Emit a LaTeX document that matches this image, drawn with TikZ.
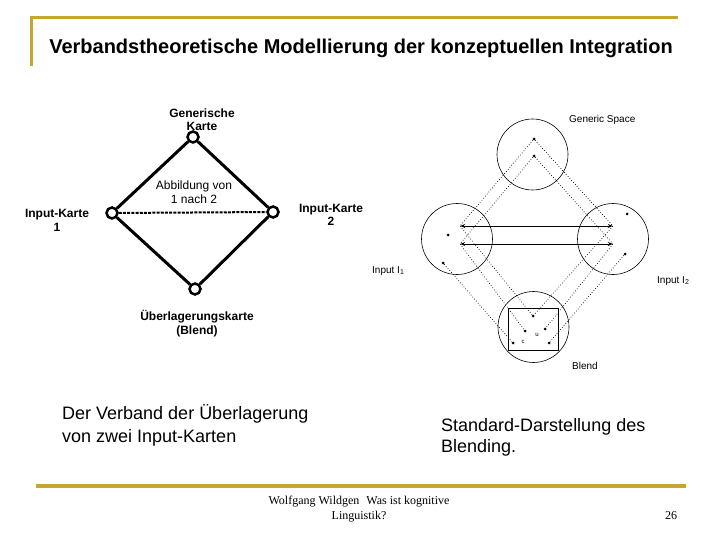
\documentclass[tikz,border=0pt]{standalone}
\usepackage{fontspec}
\setmainfont{Liberation Sans}
\newfontfamily\footfont{Liberation Serif}
\usetikzlibrary{arrows.meta}
\definecolor{gold}{RGB}{200,165,50}
\begin{document}
\begin{tikzpicture}[x=1pt,y=-1pt,
  ring/.style={circle,draw,line width=2.5pt,minimum size=11pt,inner sep=0pt},
  thickedge/.style={line width=3pt},
  lbl/.style={font=\fontsize{12}{13.5}\selectfont\bfseries,align=center,inner sep=0pt},
  lblr/.style={font=\fontsize{12}{13.5}\selectfont,align=center,inner sep=0pt},
  space/.style={circle,draw,line width=0.6pt,minimum size=71pt,inner sep=0pt},
  pt/.style={circle,fill,inner sep=0pt,minimum size=3pt},
  endpt/.style={inner sep=0pt,minimum size=0pt},
  proj/.style={dotted,line width=0.7pt},
  map/.style={line width=0.8pt,{Stealth[length=5pt,width=4pt]}-{Stealth[length=5pt,width=4pt]}},
  small/.style={font=\fontsize{10}{12}\selectfont,inner sep=0pt,anchor=west},
  big/.style={font=\fontsize{18}{23}\selectfont,align=left,inner sep=0pt,anchor=west}]
\useasboundingbox (0,0) rectangle (720,540);
\fill[white] (0,0) rectangle (720,540);
% gold rules
\draw[gold,line width=3pt] (30,18) -- (678,18);
\draw[gold,line width=3pt] (31.5,17) -- (31.5,66);
\draw[gold,line width=4pt] (36,486) -- (686,486);
\node[font=\fontsize{20}{24}\selectfont\bfseries,inner sep=0pt] (title) at (361,48) {Verbandstheoretische Modellierung der konzeptuellen Integration};
% left lattice diagram
\node[ring] (gk) at (193,137) {};
\node[ring] (ik1) at (112,213) {};
\node[ring] (ik2) at (273,212) {};
\node[ring] (uk) at (195,289) {};
\draw[thickedge] (gk) -- (ik1);
\draw[thickedge] (gk) -- (ik2);
\draw[thickedge] (ik1) -- (uk);
\draw[thickedge] (ik2) -- (uk);
\draw[line width=2pt,dash pattern=on 3pt off 1.2pt] (ik1) -- (ik2);
\node[lbl] (tgk) at (202,119.5) {Generische\\Karte};
\node[lblr] (tab) at (194,192) {Abbildung von\\1 nach 2};
\node[lbl] (tik1) at (57,220.5) {Input-Karte\\1};
\node[lbl] (tik2) at (331,215) {Input-Karte\\2};
\node[lbl] (tuk) at (197,323.5) {Überlagerungskarte\\(Blend)};
% right blending diagram
\node[space] (gs) at (532.5,154.5) {};
\node[space] (i1) at (457,239) {};
\node[space] (i2) at (613,239) {};
\node[space] (bs) at (533.5,327) {};
\node[draw,line width=0.8pt,minimum width=50pt,minimum height=42pt,inner sep=0pt] (box) at (533.5,329) {};
\node[pt] (ga) at (534,139) {};
\node[pt] (gb) at (534,156) {};
\node[endpt] (l1) at (460,226) {};
\node[endpt] (l2) at (460,244) {};
\node[pt] (lx) at (448,235) {};
\node[pt] (lo) at (443,263) {};
\node[endpt] (r1) at (613,226) {};
\node[endpt] (r2) at (613,244) {};
\node[pt] (rx) at (627,214) {};
\node[pt] (ro) at (625,254) {};
\node[pt] (bt) at (533,316) {};
\node[pt] (bml) at (525,331) {};
\node[pt] (bmr) at (545,329) {};
\node[pt] (bbl) at (513,343) {};
\node[pt] (bbr) at (549,343) {};
\draw[map] (l1) -- (r1);
\draw[map] (l2) -- (r2);
\draw[proj] (ga) -- (l1);
\draw[proj] (ga) -- (r1);
\draw[proj] (gb) -- (l2);
\draw[proj] (gb) -- (r2);
\draw[proj] (l1) -- (bt);
\draw[proj] (r1) -- (bt);
\draw[proj] (l2) -- (bml);
\draw[proj] (r2) -- (bmr);
\draw[proj] (lo) -- (bbl);
\draw[proj] (ro) -- (bbr);
\node[font=\fontsize{6}{7}\selectfont,inner sep=0pt] (cc) at (523,342) {c};
\node[font=\fontsize{6}{7}\selectfont,inner sep=0pt] (cu) at (537,335) {u};
\node[small] (tgs) at (569,120) {Generic Space};
\node[small] (ti1) at (372,271) {Input I\textsubscript{1}};
\node[small] (ti2) at (657,281) {Input I\textsubscript{2}};
\node[small] (tbs) at (572,366) {Blend};
% captions
\node[big] (cap1) at (62,425.5) {Der Verband der Überlagerung\\von zwei Input-Karten};
\node[big,font=\fontsize{18}{21}\selectfont] (cap2) at (441,437.5) {Standard-Darstellung des\\Blending.};
% footer
\node[font=\footfont\fontsize{12}{15}\selectfont,align=center,inner sep=0pt] (foot) at (359,509.5) {Wolfgang Wildgen\hspace{7pt}Was ist kognitive\\Linguistik?};
\node[font=\footfont\fontsize{12}{15}\selectfont,inner sep=0pt] (page) at (671,516) {26};
\end{tikzpicture}
\end{document}
